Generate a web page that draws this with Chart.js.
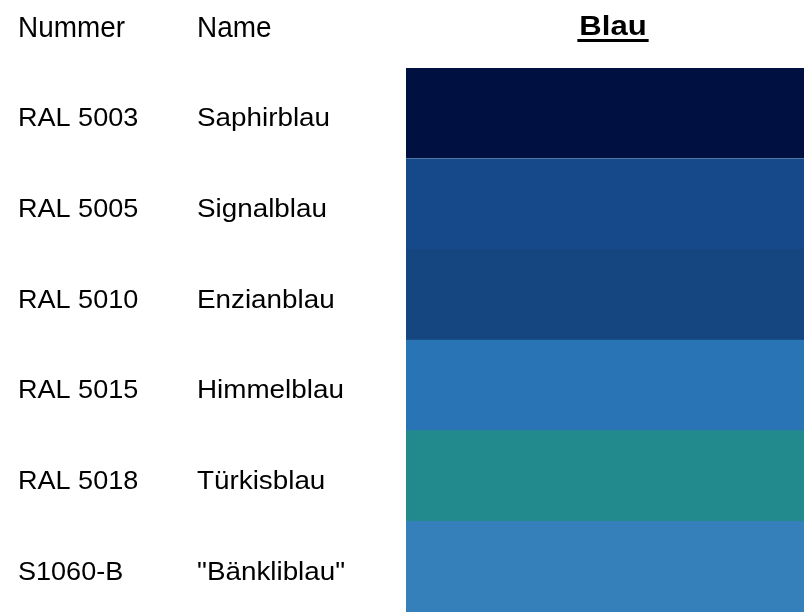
<!DOCTYPE html>
<html>
<head>
<meta charset="utf-8">
<script src="https://cdn.jsdelivr.net/npm/chart.js@4/dist/chart.umd.min.js"></script>
<style>
  html, body { margin: 0; padding: 0; background: #fff; }
  #wrap { width: 804px; height: 612px; }
</style>
</head>
<body>
<div id="wrap"><canvas id="swatches"></canvas></div>
<script>
// colour table data
const numbers = ["RAL 5003", "RAL 5005", "RAL 5010", "RAL 5015", "RAL 5018", "S1060-B"];
const names = ["Saphirblau", "Signalblau", "Enzianblau", "Himmelblau", "Türkisblau", "\"Bänkliblau\""];
const swatchColors = ["#001141", "#16498a", "#154680", "#2874b4", "#228a8c", "#3580ba"];
const swatchValues = [1, 1, 1, 1, 1, 1];
const headers = ["Nummer", "Name", "Blau"];

const FONT = "'Liberation Sans', Arial, sans-serif";

// text drawn a bit wider/narrower than normal, like the reference
function wideText(ctx, txt, x, y, sx) {
  ctx.save();
  ctx.translate(x, y);
  ctx.scale(sx, 1);
  ctx.fillText(txt, 0, 0);
  ctx.restore();
}

// draws the two text columns and the heading
const tablePlugin = {
  id: "tableText",
  afterDraw(chart) {
    const ctx = chart.ctx;
    const y = chart.scales.y;
    const area = chart.chartArea;
    ctx.save();
    ctx.fillStyle = "#000";
    ctx.textBaseline = "alphabetic";
    ctx.textAlign = "left";
    ctx.font = "30px " + FONT;
    wideText(ctx, headers[0], 18, 37, 0.93);
    wideText(ctx, headers[1], 197, 37, 0.93);

    ctx.font = "26px " + FONT;
    numbers.forEach((n, i) => {
      const py = y.getPixelForValue(i) + 13;
      wideText(ctx, n, 18, py, 1.04);
      wideText(ctx, names[i], 197, py, 1.07);
    });

    // heading over the swatches, bold and underlined
    ctx.font = "bold 27px " + FONT;
    const cx = (area.left + area.right) / 2 + 8;
    const w = ctx.measureText(headers[2]).width * 1.15;
    wideText(ctx, headers[2], cx - w / 2, 35, 1.15);
    ctx.fillRect(cx - w / 2 - 2, 39, w + 4, 3);
    ctx.restore();
  }
};

new Chart(document.getElementById("swatches"), {
  type: "bar",
  data: {
    labels: numbers,
    datasets: [{
      data: swatchValues,
      backgroundColor: swatchColors,
      borderColor: "#ffffff",
      borderWidth: c => c.dataIndex === 0 ? { bottom: 1, top: 0, left: 0, right: 0 } : 0,
      borderSkipped: false,
      barPercentage: 1,
      categoryPercentage: 1
    }]
  },
  options: {
    indexAxis: "y",
    responsive: true,
    maintainAspectRatio: false,
    animation: false,
    layout: { padding: { left: 406, top: 68, right: 0, bottom: 0 } },
    scales: {
      x: { display: false, min: 0, max: 1 },
      y: { display: false }
    },
    plugins: {
      legend: { display: false },
      tooltip: { enabled: false }
    }
  },
  plugins: [tablePlugin]
});
</script>
</body>
</html>
